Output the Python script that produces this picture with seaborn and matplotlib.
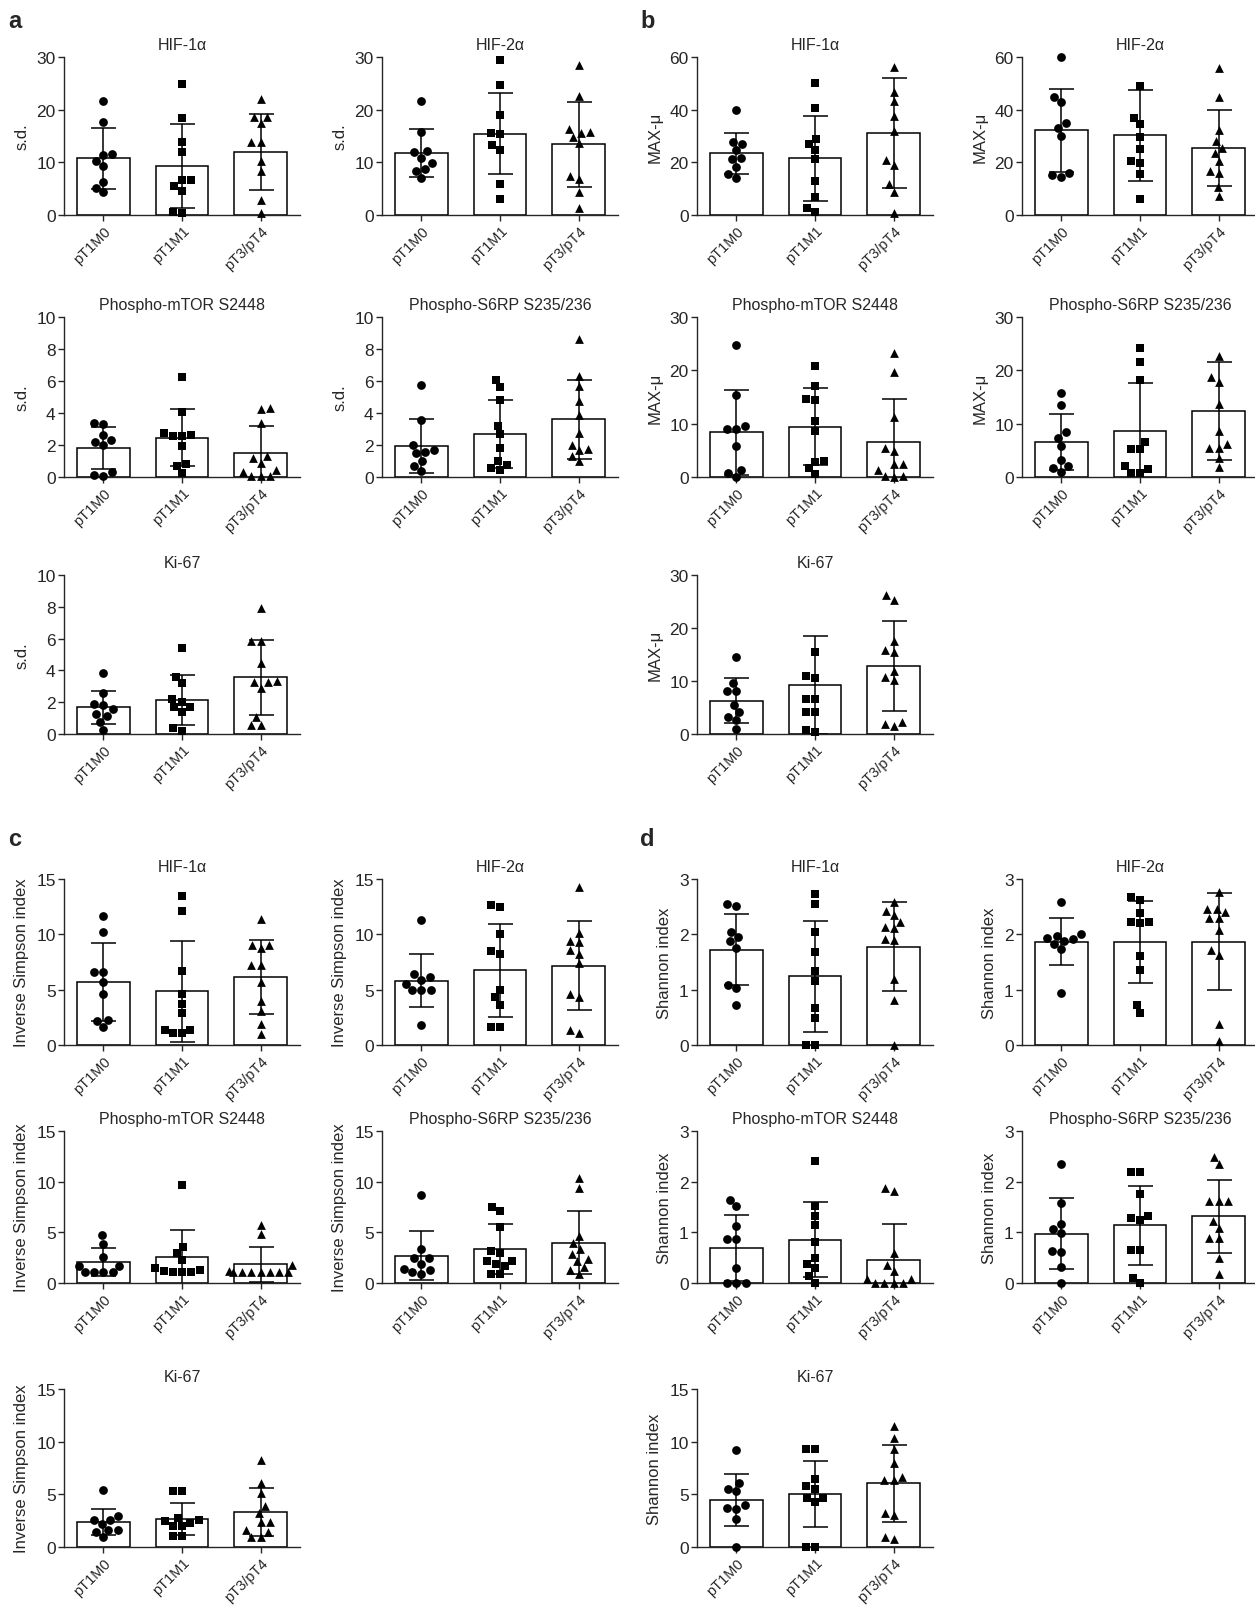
import numpy as np
import matplotlib
matplotlib.use("Agg")
import matplotlib.pyplot as plt
import seaborn as sns
import warnings

warnings.filterwarnings("ignore")

groups = ["pT1M0", "pT1M1", "pT3/pT4"]
markers = ["o", "s", "^"]

# ---------------- panel a : s.d. ----------------
a_hif1_pts = [[21.6, 17.7, 11.5, 11.3, 10.2, 9.3, 6.2, 5.2, 4.3],
              [24.8, 18.4, 13.8, 11.9, 6.6, 6.6, 5.5, 4.6, 0.6, 0.4],
              [22.1, 18.7, 18.7, 17.5, 13.9, 13.9, 10.3, 8.3, 2.9, 0.3]]
a_hif1_mean = [10.8, 9.3, 12.0]
a_hif1_sd = [5.8, 7.9, 7.2]

a_hif2_pts = [[21.6, 15.75, 12.2, 11.9, 10.9, 9.8, 8.75, 8.4, 7.1],
              [29.5, 24.6, 19.0, 15.5, 15.4, 13.25, 12.3, 5.9, 3.0],
              [28.4, 22.6, 16.4, 15.8, 15.6, 14.9, 13.6, 7.4, 6.9, 4.4, 1.25]]
a_hif2_mean = [11.75, 15.4, 13.4]
a_hif2_sd = [4.5, 7.7, 8.0]

a_mtor_pts = [[3.4, 3.3, 2.6, 2.3, 2.2, 2.0, 0.3, 0.15, 0.05],
              [6.24, 4.07, 2.76, 2.65, 2.59, 2.55, 1.96, 0.84, 0.71, 0.25],
              [4.32, 4.26, 3.38, 1.29, 1.19, 0.88, 0.46, 0.31, 0.08, 0.08, 0.08]]
a_mtor_mean = [1.82, 2.44, 1.5]
a_mtor_sd = [1.29, 1.78, 1.7]

a_s6rp_pts = [[5.74, 3.54, 1.97, 1.68, 1.55, 1.47, 1.03, 0.71, 0.36],
              [6.08, 5.6, 4.82, 3.19, 2.66, 1.82, 0.99, 0.78, 0.57, 0.42],
              [8.6, 6.33, 5.7, 4.72, 3.86, 2.73, 2.03, 1.72, 1.66, 1.34, 0.99]]
a_s6rp_mean = [1.95, 2.68, 3.6]
a_s6rp_sd = [1.7, 2.14, 2.48]

a_ki67_pts = [[3.83, 2.61, 1.88, 1.84, 1.57, 1.26, 1.15, 0.77, 0.25],
              [5.4, 3.6, 3.2, 2.2, 1.99, 1.67, 1.67, 1.36, 0.38, 0.21],
              [7.95, 5.82, 5.82, 4.44, 3.31, 3.24, 3.24, 2.89, 1.05, 0.56, 0.56]]
a_ki67_mean = [1.67, 2.15, 3.56]
a_ki67_sd = [1.05, 1.57, 2.36]

# ---------------- panel b : MAX-mu ----------------
b_hif1_pts = [[39.8, 27.8, 27.1, 24.6, 21.8, 21.2, 18.3, 15.5, 13.9],
              [50.1, 40.7, 29.0, 27.1, 24.6, 21.1, 12.9, 6.9, 2.8, 1.0],
              [56.2, 46.6, 43.2, 37.6, 31.8, 20.8, 18.8, 11.7, 8.8, 0.6]]
b_hif1_mean = [23.4, 21.6, 31.2]
b_hif1_sd = [7.8, 16.1, 20.8]

b_hif2_pts = [[60.0, 44.7, 42.8, 35.0, 33.2, 30.1, 15.9, 15.2, 14.3],
              [48.9, 37.0, 34.5, 29.5, 25.25, 20.5, 19.6, 15.5, 5.9],
              [55.8, 44.7, 32.4, 28.0, 25.6, 23.6, 20.6, 16.7, 16.1, 10.5, 7.2]]
b_hif2_mean = [32.2, 30.3, 25.6]
b_hif2_sd = [15.7, 17.2, 14.4]

b_mtor_pts = [[24.8, 15.4, 9.5, 9.0, 9.0, 5.9, 1.4, 0.75, 0.0],
              [20.8, 17.1, 14.7, 14.4, 10.5, 8.7, 3.0, 2.9, 1.76, 0.6],
              [23.2, 19.6, 11.3, 5.5, 4.8, 2.5, 2.4, 1.4, 0.2, 0.2, 0.0]]
b_mtor_mean = [8.35, 9.4, 6.5]
b_mtor_sd = [7.95, 7.2, 8.1]

b_s6rp_pts = [[15.7, 13.5, 8.35, 7.4, 5.84, 3.26, 2.07, 1.76, 0.94],
              [24.1, 21.5, 18.1, 6.6, 5.2, 5.2, 2.07, 1.57, 0.8, 0.8],
              [22.7, 18.8, 17.9, 13.75, 8.6, 6.15, 5.5, 5.5, 3.6, 1.9]]
b_s6rp_mean = [6.5, 8.6, 12.3]
b_s6rp_sd = [5.25, 9.0, 9.2]

b_ki67_pts = [[14.5, 9.56, 8.05, 8.05, 5.53, 4.21, 3.27, 2.64, 0.94],
              [15.4, 11.0, 10.6, 6.6, 6.6, 4.2, 4.2, 0.8, 0.3],
              [26.2, 25.3, 17.6, 15.9, 15.4, 11.9, 10.8, 10.1, 2.2, 1.9, 1.45]]
b_ki67_mean = [6.29, 9.25, 12.75]
b_ki67_sd = [4.2, 9.3, 8.5]

# ---------------- panel c : Inverse Simpson index ----------------
c_hif1_pts = [[11.7, 10.2, 6.6, 6.6, 5.7, 4.6, 2.3, 2.2, 1.6],
              [13.5, 12.15, 6.7, 4.6, 3.7, 2.9, 1.4, 1.4, 1.05, 1.05],
              [11.4, 9.0, 9.0, 8.75, 7.2, 7.2, 5.7, 4.0, 3.05, 1.86, 1.0]]
c_hif1_mean = [5.7, 4.84, 6.16]
c_hif1_sd = [3.5, 4.6, 3.34]

c_hif2_pts = [[11.3, 6.4, 6.1, 5.9, 5.55, 5.0, 5.0, 5.0, 1.8],
              [12.65, 12.5, 10.0, 8.5, 8.2, 4.95, 4.3, 3.65, 1.6, 1.6],
              [14.3, 10.1, 9.4, 9.3, 8.6, 8.25, 7.4, 4.65, 4.3, 1.36, 1.07]]
c_hif2_mean = [5.8, 6.74, 7.17]
c_hif2_sd = [2.4, 4.2, 4.0]

c_mtor_pts = [[4.74, 3.89, 2.53, 1.67, 1.67, 1.04, 1.04, 1.04, 1.04],
              [9.67, 3.6, 2.94, 2.24, 1.5, 1.3, 1.2, 1.04, 1.04, 1.04],
              [5.72, 4.83, 1.74, 1.2, 1.04, 1.04, 1.04, 1.04, 1.04, 1.04, 1.04]]
c_mtor_mean = [2.05, 2.56, 1.83]
c_mtor_sd = [1.36, 2.65, 1.74]

c_s6rp_pts = [[8.68, 3.36, 2.43, 2.43, 1.9, 1.43, 1.26, 1.1, 0.93],
              [7.48, 7.08, 5.49, 3.19, 2.99, 2.16, 2.16, 1.83, 1.66, 0.93, 0.93],
              [10.4, 9.4, 4.67, 3.99, 3.36, 2.86, 2.39, 2.16, 1.6, 1.26, 0.93]]
c_s6rp_mean = [2.69, 3.36, 3.99]
c_s6rp_sd = [2.4, 2.46, 3.09]

c_ki67_pts = [[5.45, 2.97, 2.6, 2.6, 2.2, 1.65, 1.65, 1.45, 0.96],
              [5.29, 5.29, 2.71, 2.6, 2.48, 2.31, 1.98, 1.98, 1.06, 1.06],
              [8.23, 6.11, 5.1, 3.87, 3.2, 2.38, 2.38, 1.65, 1.45, 0.99, 0.99]]
c_ki67_mean = [2.38, 2.64, 3.34]
c_ki67_sd = [1.25, 1.49, 2.28]

# ---------------- panel d : Shannon index ----------------
d_hif1_pts = [[2.54, 2.52, 2.05, 1.96, 1.88, 1.76, 1.09, 1.03, 0.73],
              [2.73, 2.54, 2.05, 1.68, 1.34, 1.15, 0.66, 0.49, 0.0, 0.0],
              [2.58, 2.43, 2.35, 2.22, 2.13, 2.11, 1.92, 1.9, 1.19, 0.81, 0.0]]
d_hif1_mean = [1.72, 1.24, 1.78]
d_hif1_sd = [0.64, 1.0, 0.8]

d_hif2_pts = [[2.59, 2.0, 1.97, 1.93, 1.92, 1.88, 1.82, 1.73, 0.94],
              [2.68, 2.62, 2.39, 2.23, 2.23, 2.21, 1.6, 1.35, 0.73, 0.58],
              [2.76, 2.45, 2.45, 2.4, 2.3, 2.29, 2.07, 1.71, 1.62, 0.38, 0.08]]
d_hif2_mean = [1.87, 1.86, 1.87]
d_hif2_sd = [0.42, 0.74, 0.88]

d_mtor_pts = [[1.64, 1.51, 1.12, 0.87, 0.87, 0.3, 0.0, 0.0, 0.0],
              [2.4, 1.51, 1.33, 1.15, 0.8, 0.5, 0.37, 0.3, 0.13, 0.0],
              [1.88, 1.81, 0.6, 0.35, 0.24, 0.07, 0.07, 0.0, 0.0, 0.0, 0.0]]
d_mtor_mean = [0.69, 0.85, 0.45]
d_mtor_sd = [0.66, 0.74, 0.72]

d_s6rp_pts = [[2.34, 1.58, 1.17, 1.06, 0.98, 0.64, 0.62, 0.32, 0.0],
              [2.2, 2.2, 1.75, 1.32, 1.28, 1.24, 0.66, 0.66, 0.1, 0.0],
              [2.49, 2.34, 1.62, 1.62, 1.62, 1.23, 1.09, 0.89, 0.89, 0.49, 0.18]]
d_s6rp_mean = [0.97, 1.14, 1.32]
d_s6rp_sd = [0.7, 0.78, 0.72]

d_ki67_pts = [[9.19, 6.06, 5.55, 5.27, 4.02, 3.7, 3.65, 2.67, 0.0],
              [9.35, 9.35, 6.43, 5.8, 5.49, 4.64, 4.64, 4.24, 0.0, 0.0],
              [11.5, 10.35, 9.32, 7.94, 6.68, 6.34, 6.34, 3.23, 3.04, 0.94, 0.72]]
d_ki67_mean = [4.46, 5.02, 6.06]
d_ki67_sd = [2.51, 3.14, 3.67]


sns.set_style("ticks")
plt.rcParams["font.family"] = ["Liberation Sans", "DejaVu Sans"]

W, H = 1255, 1608
fig = plt.figure(figsize=(W / 100, H / 100), dpi=100)

# axes boxes in pixels: left, top, width, height
cols = [64, 382, 697, 1022]
rows = [(58, 158), (318, 160), (576, 159), (880, 166), (1132, 152), (1390, 158)]
AW = 236


def panel(col, row, pts, means, sds, title, ylabel, ymax, step):
    left = cols[col]
    top, h = rows[row]
    ax = fig.add_axes([left / W, 1 - (top + h) / H, AW / W, h / H])
    sns.barplot(x=groups, y=means, color="white", edgecolor="black",
                linewidth=1.1, width=0.67, errorbar=None, ax=ax)
    ax.errorbar(np.arange(len(groups)), means, yerr=sds, fmt="none",
                ecolor="black", elinewidth=1.1, capsize=9, capthick=1.1)
    for i, vals in enumerate(pts):
        sns.swarmplot(x=[groups[i]] * len(vals), y=vals, order=groups,
                      marker=markers[i], color="black", size=6.3,
                      linewidth=0, clip_on=False, ax=ax)
    ax.set_xlim(-0.5, 2.5)
    ax.set_ylim(0, ymax)
    ax.set_yticks(np.arange(0, ymax + step / 2, step))
    ax.set_xticks(range(3))
    ax.set_xticklabels(groups, rotation=45, ha="right", rotation_mode="anchor")
    sns.despine(ax=ax)
    for s in ["left", "bottom"]:
        ax.spines[s].set_linewidth(1.0)
    ax.tick_params(axis="y", labelsize=12.5, length=4, width=1, pad=2)
    ax.tick_params(axis="x", labelsize=10.5, length=4, width=1, pad=2)
    ax.set_xlabel("")
    ax.set_ylabel(ylabel, fontsize=12, labelpad=5)
    ax.set_title(title, fontsize=11.5, pad=6)
    return ax


t_hif1 = "HIF-1\u03b1"
t_hif2 = "HIF-2\u03b1"
t_mtor = "Phospho-mTOR S2448"
t_s6rp = "Phospho-S6RP S235/236"
t_ki67 = "Ki-67"

# panel a
panel(0, 0, a_hif1_pts, a_hif1_mean, a_hif1_sd, t_hif1, "s.d.", 30, 10)
panel(1, 0, a_hif2_pts, a_hif2_mean, a_hif2_sd, t_hif2, "s.d.", 30, 10)
panel(0, 1, a_mtor_pts, a_mtor_mean, a_mtor_sd, t_mtor, "s.d.", 10, 2)
panel(1, 1, a_s6rp_pts, a_s6rp_mean, a_s6rp_sd, t_s6rp, "s.d.", 10, 2)
panel(0, 2, a_ki67_pts, a_ki67_mean, a_ki67_sd, t_ki67, "s.d.", 10, 2)

# panel b
panel(2, 0, b_hif1_pts, b_hif1_mean, b_hif1_sd, t_hif1, "MAX-\u03bc", 60, 20)
panel(3, 0, b_hif2_pts, b_hif2_mean, b_hif2_sd, t_hif2, "MAX-\u03bc", 60, 20)
panel(2, 1, b_mtor_pts, b_mtor_mean, b_mtor_sd, t_mtor, "MAX-\u03bc", 30, 10)
panel(3, 1, b_s6rp_pts, b_s6rp_mean, b_s6rp_sd, t_s6rp, "MAX-\u03bc", 30, 10)
panel(2, 2, b_ki67_pts, b_ki67_mean, b_ki67_sd, t_ki67, "MAX-\u03bc", 30, 10)

# panel c
panel(0, 3, c_hif1_pts, c_hif1_mean, c_hif1_sd, t_hif1, "Inverse Simpson index", 15, 5)
panel(1, 3, c_hif2_pts, c_hif2_mean, c_hif2_sd, t_hif2, "Inverse Simpson index", 15, 5)
panel(0, 4, c_mtor_pts, c_mtor_mean, c_mtor_sd, t_mtor, "Inverse Simpson index", 15, 5)
panel(1, 4, c_s6rp_pts, c_s6rp_mean, c_s6rp_sd, t_s6rp, "Inverse Simpson index", 15, 5)
panel(0, 5, c_ki67_pts, c_ki67_mean, c_ki67_sd, t_ki67, "Inverse Simpson index", 15, 5)

# panel d
panel(2, 3, d_hif1_pts, d_hif1_mean, d_hif1_sd, t_hif1, "Shannon index", 3, 1)
panel(3, 3, d_hif2_pts, d_hif2_mean, d_hif2_sd, t_hif2, "Shannon index", 3, 1)
panel(2, 4, d_mtor_pts, d_mtor_mean, d_mtor_sd, t_mtor, "Shannon index", 3, 1)
panel(3, 4, d_s6rp_pts, d_s6rp_mean, d_s6rp_sd, t_s6rp, "Shannon index", 3, 1)
panel(2, 5, d_ki67_pts, d_ki67_mean, d_ki67_sd, t_ki67, "Shannon index", 15, 5)

for letter, x, y in [("a", 8, 10), ("b", 640, 10), ("c", 8, 828), ("d", 640, 828)]:
    fig.text(x / W, 1 - y / H, letter, fontsize=17, fontweight="bold", va="top")

fig.savefig("out.png", dpi=100)
